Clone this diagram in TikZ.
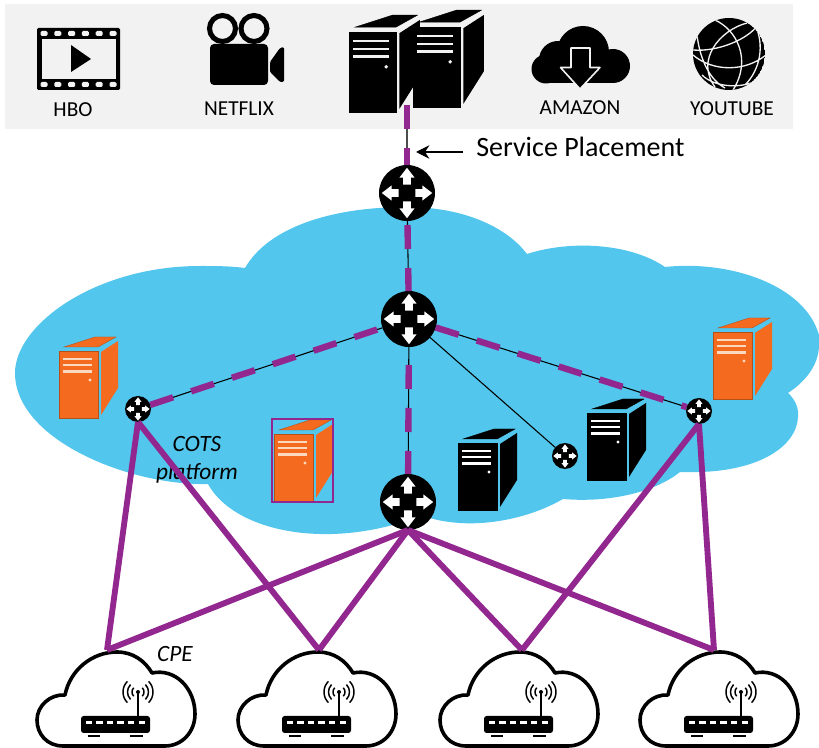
\documentclass[tikz,border=0pt]{standalone}
\usepackage{fontspec}
\setmainfont{Carlito}
\usetikzlibrary{arrows.meta}
\definecolor{bandgray}{HTML}{F2F2F2}
\definecolor{cloudblue}{HTML}{52C6EC}
\definecolor{linkpurple}{HTML}{92278F}
\definecolor{towerorange}{HTML}{F46A1F}
\definecolor{stripeorange}{HTML}{FBD9C0}
\tikzset{
	router/.style={circle,fill=black,minimum size=#1*1.5pt,inner sep=0pt,outer sep=0pt,
		path picture={
			\fill[white,shift={(path picture bounding box.center)},x=#1*0.75pt,y=#1*0.75pt]
				(0.3,-0.14)--(0.55,-0.14)--(0.55,-0.27)--(0.9,0)--(0.55,0.27)--(0.55,0.14)--(0.3,0.14)--cycle
				(-0.3,-0.14)--(-0.55,-0.14)--(-0.55,-0.27)--(-0.9,0)--(-0.55,0.27)--(-0.55,0.14)--(-0.3,0.14)--cycle
				(-0.14,0.3)--(-0.14,0.55)--(-0.27,0.55)--(0,0.9)--(0.27,0.55)--(0.14,0.55)--(0.14,0.3)--cycle
				(-0.14,-0.3)--(-0.14,-0.55)--(-0.27,-0.55)--(0,-0.9)--(0.27,-0.55)--(0.14,-0.55)--(0.14,-0.3)--cycle;
		}},
	thinlink/.style={black,line width=0.8pt},
	dashlink/.style={linkpurple,line width=4.8pt,dash pattern=on 18pt off 14.25pt,dash phase=#1},
	dashlink/.default=0pt,
	solidlink/.style={linkpurple,line width=4.4pt},
	toplabel/.style={anchor=base,inner sep=0pt,font=\fontsize{16}{18}\selectfont},
	notelabel/.style={anchor=base,inner sep=0pt,font=\fontsize{17.5}{20}\selectfont\itshape},
	pics/tower/.style n args={2}{code={
		\fill[#1,draw=#1!75!black,line width=0.3pt] (0,0) rectangle (39,67);
		\fill[#1,draw=#1!75!black,line width=0.3pt] (5,-4)--(36,-14)--(57,-14)--(39,-4)--cycle;
		\fill[#1] (42,1)--(59,-10)--(59,37)--(42,64)--cycle;
		\foreach \y in {7.7,14,20.4}
			\draw[#2,line width=1.7pt] (3.5,\y)--(33,\y);
		\fill[#2] (31,29) circle (1.6);
	}},
	pics/homecloud/.style={code={
		\draw[black,line width=2.7pt,line join=round] (26,94)
			.. controls (10,94) and (0,82) .. (0,68)
			.. controls (0,54) and (13,42) .. (28,43)
			.. controls (33,18) and (55,0) .. (80,0)
			.. controls (96,0) and (108,9) .. (115,21)
			.. controls (138,16) and (158,36) .. (158,62)
			.. controls (158,80) and (145,94) .. (128,94)
			-- cycle;
		\fill[black,rounded corners=2pt] (44,64) rectangle (113,81);
		\foreach \i in {0,...,5}
			\fill[white] ({48.5+10.6*\i},69) rectangle ({55+10.6*\i},72.5);
		\fill[black] (51,83) rectangle (63,85);
		\fill[black] (93,83) rectangle (106,85);
		\draw[black,line width=1.6pt] (101,64)--(101,41);
		\fill[black] (101,40) circle (2);
		\foreach \r in {6,10.5,15} {
			\draw[black,line width=1.1pt] (101,40) ++(135:\r) arc (135:225:\r);
			\draw[black,line width=1.1pt] (101,40) ++(-45:\r) arc (-45:45:\r);
		}
	}},
}
\begin{document}
\begin{tikzpicture}[x=0.75pt,y=-0.75pt]
	\useasboundingbox (0,0) rectangle (819,748);
	\fill[bandgray] (5,4) rectangle (793,129);
	\fill[cloudblue] (245,268)
		.. controls (268,228) and (330,207) .. (407,207)
		.. controls (460,207) and (505,225) .. (527,254)
		.. controls (570,240) and (630,243) .. (665,267)
		.. controls (730,260) and (805,285) .. (819,335)
		-- (819,345)
		.. controls (819,365) and (805,382) .. (788,393)
		.. controls (796,400) and (799,410) .. (798,417)
		.. controls (797,445) and (760,475) .. (680,472)
		.. controls (655,492) and (610,503) .. (563,499)
		.. controls (530,518) and (490,525) .. (460,523)
		.. controls (445,522) and (435,520) .. (420,515)
		.. controls (395,527) and (355,535) .. (320,534)
		.. controls (270,533) and (225,515) .. (208,484)
		.. controls (130,486) and (15,440) .. (15,373)
		.. controls (15,325) and (95,266) .. (200,266)
		.. controls (215,266) and (230,266) .. (245,268) -- cycle;

	\fill[black,rounded corners=1pt] (37,28) rectangle (120,90);
	\fill[bandgray] (42,39) rectangle (116,79);
	\foreach \i in {0,...,5} {
		\fill[bandgray,rounded corners=1pt] ({40.5+13.8*\i},31) rectangle ({47.5+13.8*\i},36);
		\fill[bandgray,rounded corners=1pt] ({40.5+13.8*\i},82) rectangle ({47.5+13.8*\i},87);
	}
	\fill[black] (71,45)--(91,59)--(71,72)--cycle;
	\node[toplabel] (hbo) at (73,117) {HBO};

	\draw[black,line width=3.8pt] (222.5,28.5) circle (13);
	\draw[black,line width=3.8pt] (254,28.5) circle (13);
	\fill[black,rounded corners=3pt] (210,44) rectangle (268,85);
	\fill[black,rounded corners=1pt] (270,62)--(280,48)--(284,47)--(284,82)--(280,82)--(270,72)--cycle;
	\node[toplabel] (netflix) at (239,116) {NETFLIX};

	\pic at (349,32) [scale=1.2] {tower={black}{bandgray}};
	\pic at (413,27) [scale=1.2] {tower={black}{bandgray}};

	\fill[black] (546,69) circle (14.5);
	\fill[black] (558,60) circle (19);
	\fill[black] (583,52) circle (26);
	\fill[black] (613,66) circle (17);
	\fill[black] (546,70) rectangle (613,83.5);
	\draw[bandgray,fill=black,line width=1.2pt,line join=round] (571,48)--(590,48)--(590,67.5)--(600,67.5)--(580,89)--(560.5,67.5)--(571,67.5)--cycle;
	\node[toplabel] (amazon) at (580,115) {AMAZON};

	\begin{scope}
		\clip (729,54) circle (36);
		\fill[black] (729,54) circle (36);
		\draw[bandgray,line width=1pt]
			(693,50) .. controls (717,52) and (747,40) .. (758,25)
			(693,55) .. controls (713,72) and (745,72) .. (766,55)
			(702,75) .. controls (715,88) and (745,90) .. (763,77)
			(715,20) .. controls (737,30) and (752,60) .. (733,90)
			(747,23) .. controls (720,30) and (695,60) .. (715,87)
			(697,35) .. controls (700,60) and (710,80) .. (725,88)
			(755,25) .. controls (765,45) and (760,70) .. (745,85);
	\end{scope}
	\node[toplabel] (youtube) at (732,116) {YOUTUBE};

	\pic at (59,351) {tower={towerorange}{stripeorange}};
	\pic at (274,434) {tower={towerorange}{stripeorange}};
	\draw[linkpurple,line width=1.2pt] (272,419) rectangle (333,502);
	\pic at (713,332) {tower={towerorange}{stripeorange}};
	\pic at (458,443) {tower={black}{white}};
	\pic at (587,413) {tower={black}{white}};

	\node[router=28] (rtop) at (407,193) {};
	\node[router=28] (rcore) at (409,319) {};
	\node[router=28] (redge) at (408,502) {};
	\node[router=13] (rleft) at (138,409) {};
	\node[router=13] (rright) at (699,411) {};
	\node[router=13] (rmid) at (565,456) {};

	\node[notelabel] (cots) at (197,452) {COTS};
	\node[notelabel] (platform) at (197,480) {platform};
	\node[notelabel] (cpelabel) at (175,662) {CPE};

	\pic at (37,652) {homecloud};
	\pic at (238,652) {homecloud};
	\pic at (440,652) {homecloud};
	\pic at (640,652) {homecloud};

	\coordinate (srvlink) at (407,105);
	\coordinate (cpea) at (107,650);
	\coordinate (cpeb) at (319,650);
	\coordinate (cpec) at (522,650);
	\coordinate (cped) at (714,650);

	\draw[black!70,line width=0.8pt] (srvlink)--(rtop);
	\draw[thinlink] (rtop)--(rcore);
	\draw[thinlink] (rcore)--(redge);
	\draw[thinlink] (rcore)--(rleft);
	\draw[thinlink] (rcore)--(rright);
	\draw[thinlink] (rcore)--(rmid);

	\draw[dashlink] (srvlink)--(rtop);
	\draw[dashlink=29.25pt] (rtop)--(rcore);
	\draw[dashlink=18.75pt] (rcore)--(redge);
	\draw[dashlink] (rleft)--(rcore);
	\draw[dashlink] (rcore)--(rright);

	\draw[solidlink] (rleft.south)--(cpea);
	\draw[solidlink] (rleft.south)--(cpeb);
	\draw[solidlink] (redge.south)--(cpea);
	\draw[solidlink] (redge.south)--(cpeb);
	\draw[solidlink] (redge.south)--(cpec);
	\draw[solidlink] (redge.south)--(cped);
	\draw[solidlink] (rright.south)--(cpec);
	\draw[solidlink] (rright.south)--(cped);

	\node[anchor=base west,inner sep=0pt,font=\fontsize{21}{24}\selectfont] (placement) at (476,157) {Service Placement};
	\coordinate (placefrom) at (463,152);
	\coordinate (placetip) at (416,152);
	\draw[-{Stealth[length=10pt,width=10pt]},black,line width=1.5pt] (placefrom)--(placetip);
\end{tikzpicture}
\end{document}
